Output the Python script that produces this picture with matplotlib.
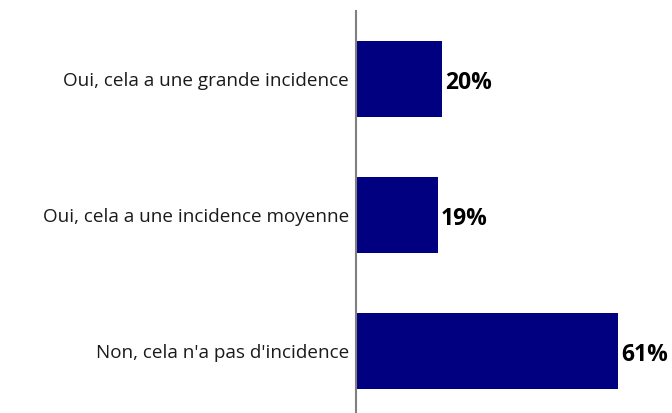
import matplotlib
matplotlib.use("Agg")
import matplotlib.pyplot as plt

categories = ["Oui, cela a une grande incidence",
              "Oui, cela a une incidence moyenne",
              "Non, cela n'a pas d'incidence"]
values = [20, 19, 61]
labels = ["20%", "19%", "61%"]

plt.rcParams['font.family'] = ['Open Sans', 'DejaVu Sans']

fig = plt.figure(figsize=(6.72, 4.13), dpi=100)
W, H = 672, 413
ax = fig.add_axes([356 / W, 0, (W - 356) / W, (H - 11) / H])
pos = list(range(len(categories)))
ax.barh(pos, values, height=76 / 136, color="#000080")
ax.set_xlim(0, (W - 356) / 4.295)
ax.set_ylim(2 + 62 / 136, -68 / 136)
ax.set_yticks(pos)
ax.set_yticklabels(categories, fontsize=13.6, color="#1a1a1a")
ax.tick_params(axis='y', length=0, pad=5)
ax.set_xticks([])
for s in ["top", "right", "bottom"]:
    ax.spines[s].set_visible(False)
ax.spines["left"].set_color("#808080")
ax.spines["left"].set_linewidth(1.5)
for p, v, l in zip(pos, values, labels):
    ax.text(v + 0.8, p + 0.03, l, va="center", ha="left", fontsize=16.5,
            fontweight="bold", color="#000000")
fig.savefig("out.png", dpi=100)
